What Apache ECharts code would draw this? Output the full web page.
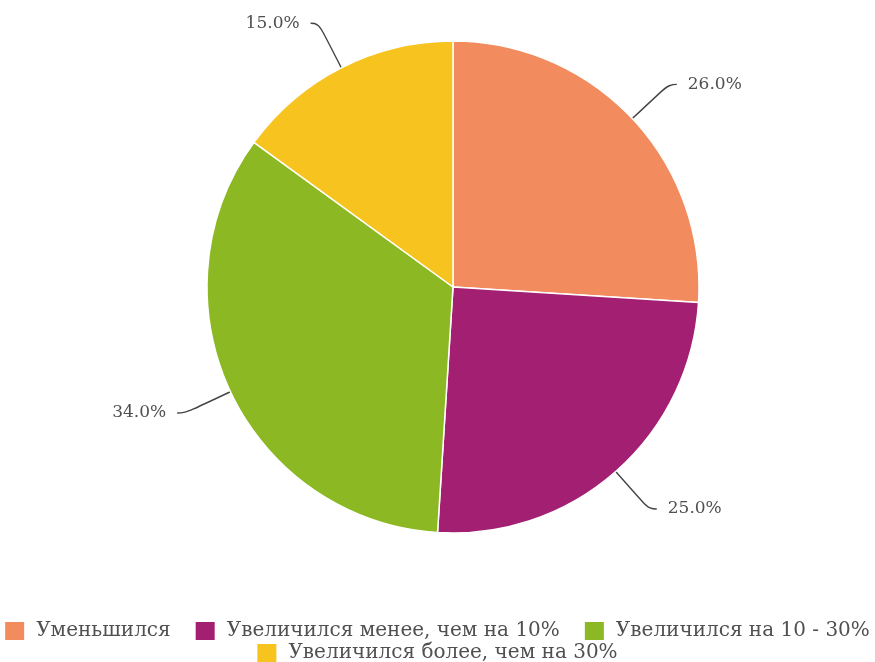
<!DOCTYPE html>
<html>
<head>
<meta charset="utf-8">
<script src="https://cdn.jsdelivr.net/npm/echarts@6/dist/echarts.min.js"></script>
<style>
  html, body { margin: 0; padding: 0; background: #fff; }
  #chart { width: 875px; height: 662px; }
</style>
</head>
<body>
<div id="chart"></div>
<script>
// Categories and their shares (percent)
const categories = [
  'Уменьшился',
  'Увеличился менее, чем на 10%',
  'Увеличился на 10 - 30%',
  'Увеличился более, чем на 30%'
];
const shares = [26, 25, 34, 15];
const colors = ['#F28B5E', '#A21F72', '#8BB823', '#F7C31F'];

const legendText = {
  fontFamily: 'DejaVu Serif',
  fontSize: 20,
  color: '#505050',
  padding: [0, 0, 0, 7]
};
const legendBase = {
  orient: 'horizontal',
  left: 'center',
  itemWidth: 19,
  itemHeight: 18,
  itemGap: 25,
  icon: 'rect',
  itemStyle: { borderWidth: 0 },
  textStyle: legendText
};

const chart = echarts.init(document.getElementById('chart'));
chart.setOption({
  backgroundColor: '#ffffff',
  color: colors,
  textStyle: { fontFamily: 'DejaVu Serif' },
  legend: [
    Object.assign({}, legendBase, { top: 616, data: categories.slice(0, 3) }),
    Object.assign({}, legendBase, { top: 638, data: categories.slice(3) })
  ],
  series: [{
    type: 'pie',
    center: [453, 287],
    radius: 246,
    startAngle: 90,
    clockwise: true,
    itemStyle: { borderColor: '#fff', borderWidth: 1.5 },
    label: {
      formatter: p => p.value.toFixed(1) + '%',
      fontFamily: 'DejaVu Serif',
      fontSize: 17,
      color: '#505050',
      distanceToLabelLine: 11
    },
    labelLine: {
      length: 50,
      length2: 8,
      smooth: 0.5,
      lineStyle: { color: '#444', width: 1.4 }
    },
    data: categories.map((c, i) => ({ name: c, value: shares[i] }))
  }]
});
</script>
</body>
</html>
